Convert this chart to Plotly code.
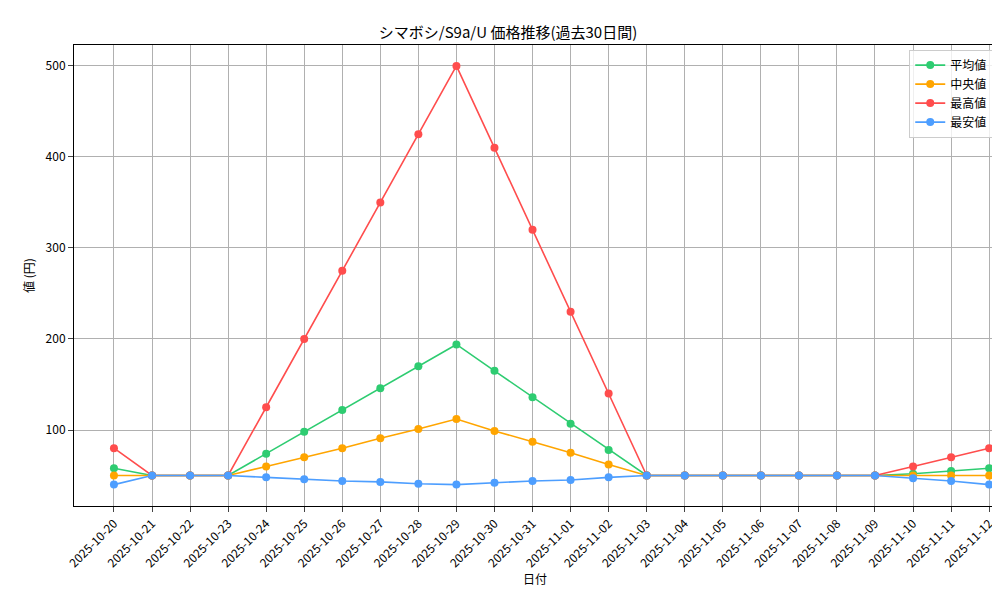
import plotly.graph_objects as go

dates = ["2025-10-20","2025-10-21","2025-10-22","2025-10-23","2025-10-24","2025-10-25","2025-10-26","2025-10-27","2025-10-28","2025-10-29","2025-10-30","2025-10-31","2025-11-01","2025-11-02","2025-11-03","2025-11-04","2025-11-05","2025-11-06","2025-11-07","2025-11-08","2025-11-09","2025-11-10","2025-11-11","2025-11-12"]
avg_vals = [58,50,50,50,74,98,122,146,170,194,165,136,107,78,50,50,50,50,50,50,50,52,55,58]
med_vals = [50,50,50,50,60,70,80,91,101,112,99,87,75,62,50,50,50,50,50,50,50,50,50,50]
max_vals = [80,50,50,50,125,200,275,350,425,500,410,320,230,140,50,50,50,50,50,50,50,60,70,80]
min_vals = [40,50,50,50,48,46,44,43,41,40,42,44,45,48,50,50,50,50,50,50,50,47,44,40]

x = list(range(len(dates)))
fig = go.Figure()
for name, vals, col in [("平均値", avg_vals, "#2ecc71"), ("中央値", med_vals, "#ffa500"),
                        ("最高値", max_vals, "#ff4d4d"), ("最安値", min_vals, "#4d9eff")]:
    fig.add_trace(go.Scatter(x=x, y=vals, name=name, mode="lines+markers",
                             line=dict(color=col, width=1.6), marker=dict(size=8, color=col)))

font = "Noto Sans CJK JP"
fig.update_layout(
    width=1000, height=600, plot_bgcolor="white", paper_bgcolor="white",
    font=dict(family=font, size=12, color="black"),
    title=dict(text="シマボシ/S9a/U 価格推移(過去30日間)", x=0.5, xanchor="center", y=0.967, font=dict(size=15)),
    margin=dict(l=66, r=12, t=37, b=102, autoexpand=False),
    xaxis=dict(tickmode="array", tickvals=x, ticktext=dates, tickangle=-45, range=[-1.05, 23.18],
               automargin=False,
               showgrid=True, gridcolor="#b0b0b0", showline=True, mirror=True, linecolor="black",
               ticks="outside", title=dict(text="日付", standoff=6, font=dict(size=12)), zeroline=False),
    yaxis=dict(range=[16.5, 523], tickvals=[100,200,300,400,500], showgrid=True, gridcolor="#b0b0b0",
               automargin=False,
               showline=True, mirror=True, linecolor="black", ticks="outside",
               title=dict(text="値 (円)", standoff=8, font=dict(size=12)), zeroline=False),
    legend=dict(x=0.997, y=0.99, xanchor="right", yanchor="top", bordercolor="#cccccc", borderwidth=1,
                bgcolor="rgba(255,255,255,0.8)", font=dict(size=12)),
)
fig.write_html("out.html")
